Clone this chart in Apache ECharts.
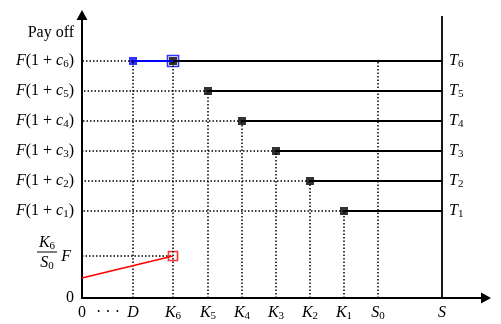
<!DOCTYPE html>
<html>
<head>
<meta charset="utf-8">
<script src="https://cdn.jsdelivr.net/npm/echarts@6/dist/echarts.min.js"></script>
<style>
html,body{margin:0;padding:0;background:#fff;}
#chart{width:501px;height:324px;}
</style>
</head>
<body>
<div id="chart"></div>
<script>
// positions on the S axis and payoff levels (arbitrary units)
var strikeSub = ['6', '5', '4', '3', '2', '1'];     // K6 ... K1
var strikeX = [91, 126, 160, 194, 228, 262];
var payLevels = [237, 207, 177, 147, 117, 87];     // F(1+c6) ... F(1+c1)
var dX = 51;
var dotsX = 26;
var s0X = 296;
var sX = 360;
var floorY = 42;       // K6/S0 F
var floorStart = 20;   // red line at S = 0
var payoffY = 265;     // "Pay off" text
var xMax = 404, yMax = 283, sTop = 282;

var ink = '#000';
var serif = 'Liberation Serif';
var fs = 16;
var rich = {
  r: {fontFamily: serif, fontSize: fs, color: ink, lineHeight: 18},
  i: {fontFamily: serif, fontSize: fs, color: ink, fontStyle: 'italic', lineHeight: 18},
  s: {fontFamily: serif, fontSize: 11, color: ink, verticalAlign: 'bottom', lineHeight: 12}
};

var xLabels = {};
xLabels[0] = '{r|0}';
xLabels[dotsX] = '{r|· · ·}';
xLabels[dX] = '{i|D}';
strikeX.forEach(function (x, i) { xLabels[x] = '{i|K}{s|' + strikeSub[i] + '}'; });
xLabels[s0X] = '{i|S}{s|0}';
xLabels[sX] = '{i|S}';

var yLabels = {};
yLabels[0] = '{r|0}';
yLabels[payoffY] = '{r|Pay off}';
payLevels.forEach(function (y, i) { yLabels[y] = '{i|F}{r|(1 + }{i|c}{s|' + strikeSub[i] + '}{r|)}'; });

function seg(pts, color, width, type, extra) {
  var s = {
    type: 'line', data: pts, showSymbol: false, symbol: 'none', silent: true,
    lineStyle: {color: color, width: width, type: type}
  };
  for (var k in extra) s[k] = extra[k];
  return s;
}
var dot = [1.5, 2];

var series = [];
// dotted guides
strikeX.forEach(function (x, i) {
  var y = payLevels[i];
  series.push(seg([[i === 0 ? dX : x, y], [0, y]], ink, 1.5, dot));
  series.push(seg([[x, 0], [x, y]], ink, 1.5, dot));
});
series.push(seg([[dX, 0], [dX, payLevels[0]]], ink, 1.5, dot));
series.push(seg([[s0X, 0], [s0X, payLevels[0]]], ink, 1.5, dot));
series.push(seg([[0, floorY], [strikeX[0], floorY]], ink, 1.5, dot));
// payoff steps
strikeX.forEach(function (x, i) {
  series.push(seg([[x, payLevels[i]], [sX, payLevels[i]]], ink, 1.8, 'solid', {
    endLabel: {show: true, distance: 7, formatter: '{i|T}{s|' + strikeSub[i] + '}', rich: rich}
  }));
});
series.push(seg([[sX, 0], [sX, sTop]], ink, 1.8, 'solid'));
series.push(seg([[dX, payLevels[0]], [strikeX[0], payLevels[0]]], '#0000ff', 1.8, 'solid'));
series.push(seg([[0, floorStart], [strikeX[0], floorY]], '#ff0000', 1.8, 'solid'));
// markers
series.push({type: 'scatter', symbol: 'rect', symbolSize: 8, silent: true, data: [[dX, payLevels[0]]],
  itemStyle: {color: '#0000ff'}});
series.push({type: 'scatter', symbol: 'rect', symbolSize: 11, silent: true, data: [[strikeX[0], payLevels[0]]],
  itemStyle: {color: '#fff', borderColor: '#0000ff', borderWidth: 1.6}});
series.push({type: 'scatter', symbol: 'rect', symbolSize: 8, silent: true,
  data: strikeX.map(function (x, i) { return [x, payLevels[i]]; }), itemStyle: {color: '#000'}});
series.push({type: 'scatter', symbol: 'rect', symbolSize: 9, silent: true, data: [[strikeX[0], floorY]],
  itemStyle: {color: '#fff', borderColor: '#ff0000', borderWidth: 1.6}});

var chart = echarts.init(document.getElementById('chart'));
chart.setOption({
  animation: false,
  backgroundColor: '#fff',
  grid: {left: 82, right: 15, top: 15, bottom: 26, outerBoundsMode: 'none'},
  xAxis: {
    type: 'value', min: 0, max: xMax,
    axisLine: {lineStyle: {color: ink, width: 2}, symbol: ['none', 'triangle'], symbolSize: [11, 10]},
    axisTick: {show: false}, splitLine: {show: false},
    axisLabel: {customValues: Object.keys(xLabels).map(Number), margin: 6, rich: rich,
      formatter: function (v) { return xLabels[v] || ''; }, showMinLabel: true, showMaxLabel: true}
  },
  yAxis: {
    type: 'value', min: 0, max: yMax,
    axisLine: {lineStyle: {color: ink, width: 2}, symbol: ['none', 'triangle'], symbolSize: [11, 10]},
    axisTick: {show: false}, splitLine: {show: false},
    axisLabel: {customValues: Object.keys(yLabels).map(Number), margin: 8, rich: rich,
      formatter: function (v) { return yLabels[v] || ''; }}
  },
  series: series
});

// the K6/S0 F fraction next to the floor level
var p = chart.convertToPixel({gridIndex: 0}, [0, floorY]);
chart.setOption({
  graphic: [
    {type: 'text', x: p[0] - 35, y: p[1] - 13, silent: true,
      style: {text: '{i|K}{s|6}', rich: rich, align: 'center', verticalAlign: 'middle'}},
    {type: 'line', silent: true,
      shape: {x1: p[0] - 45, y1: p[1] - 4, x2: p[0] - 25, y2: p[1] - 4}, style: {stroke: ink, lineWidth: 1}},
    {type: 'text', x: p[0] - 35, y: p[1] + 7, silent: true,
      style: {text: '{i|S}{s|0}', rich: rich, align: 'center', verticalAlign: 'middle'}},
    {type: 'text', x: p[0] - 11, y: p[1] + 1, silent: true,
      style: {text: '{i|F}', rich: rich, align: 'right', verticalAlign: 'middle'}}
  ]
});
</script>
</body>
</html>
